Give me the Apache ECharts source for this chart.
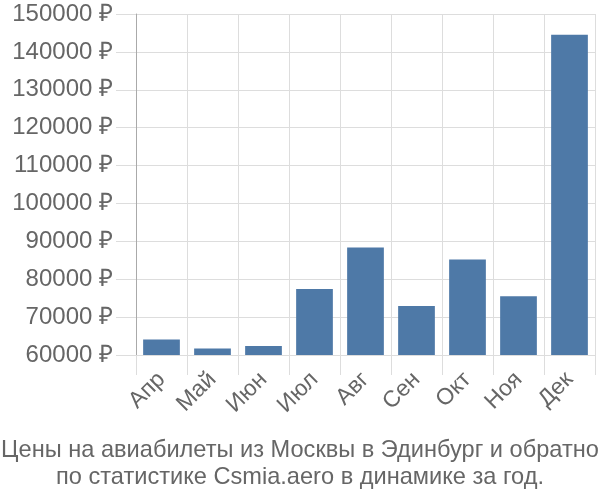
<!DOCTYPE html>
<html>
<head>
<meta charset="utf-8">
<script src="https://cdn.jsdelivr.net/npm/echarts@6/dist/echarts.min.js"></script>
<style>html,body{margin:0;padding:0;background:#fff}#c{width:600px;height:500px}</style>
</head>
<body>
<div id="c"></div>
<script>
var months = ["Апр", "Май", "Июн", "Июл", "Авг", "Сен", "Окт", "Ноя", "Дек"];
var prices = [64100, 61700, 62400, 77400, 88400, 72900, 85200, 75500, 144500];
var titleLines = ["Цены на авиабилеты из Москвы в Эдинбург и обратно", "по статистике Csmia.aero в динамике за год."];
var yMin = 60000, yMax = 150000, yStep = 10000;

var chart = echarts.init(document.getElementById('c'), null, {renderer: 'canvas'});
chart.setOption({
  animation: false,
  textStyle: {fontFamily: '"Liberation Sans", Arial, sans-serif'},
  title: {
    text: titleLines.join('\n'),
    left: 'center',
    top: 432,
    textStyle: {fontSize: 23.6, fontWeight: 'normal', color: '#666', lineHeight: 27, fontFamily: '"Liberation Sans", Arial, sans-serif'}
  },
  grid: {left: 136, right: 5, top: 14, bottom: 145, containLabel: false},
  xAxis: {
    type: 'category',
    data: months,
    boundaryGap: true,
    axisLine: {show: true, lineStyle: {color: '#ddd', width: 1}},
    axisTick: {show: true, length: 20, alignWithLabel: false, lineStyle: {color: '#ddd'}},
    splitLine: {show: true, lineStyle: {color: '#ddd', width: 1}},
    axisLabel: {rotate: 45, fontSize: 23, color: '#666', margin: 21, interval: 0}
  },
  yAxis: {
    type: 'value',
    min: yMin, max: yMax, interval: yStep,
    axisLine: {show: true, lineStyle: {color: '#aaa', width: 1}},
    axisTick: {show: true, length: 20, lineStyle: {color: '#ddd'}},
    splitLine: {show: true, lineStyle: {color: '#ddd', width: 1}},
    axisLabel: {fontSize: 24, color: '#666', margin: 23, formatter: function (v) { return v + ' ₽'; }}
  },
  series: [{
    type: 'bar',
    data: prices,
    barCategoryGap: '28%',
    itemStyle: {color: '#4e79a7'}
  }]
});
</script>
</body>
</html>
